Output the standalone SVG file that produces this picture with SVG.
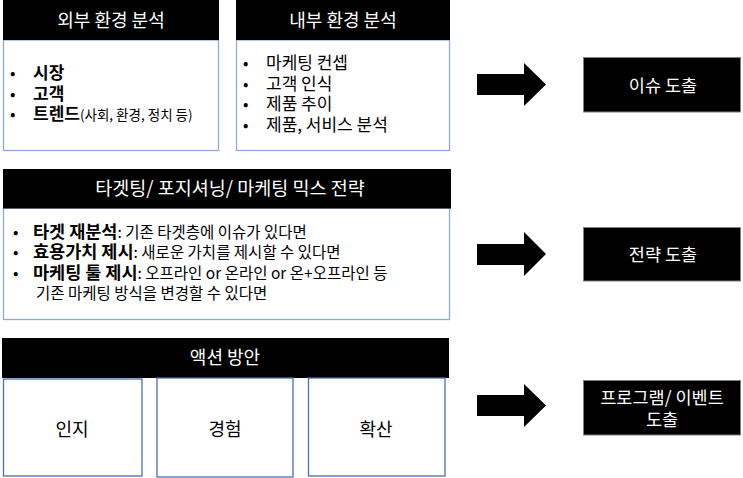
<svg xmlns="http://www.w3.org/2000/svg" width="743" height="478" viewBox="0 0 743 478">
<style>
text{font-family:"Noto Sans CJK KR","Noto Sans",sans-serif;}
.hd{fill:#000;}
.ht{fill:#fff;font-size:18px;text-anchor:middle;}
.bd{fill:#fff;stroke:#8ea9db;stroke-width:1.3;}
.sb{fill:#fff;stroke:#4a6fb5;stroke-width:1.3;}
.it{fill:#000;font-size:17px;}
.bu{fill:#000;font-size:16px;}
.b{font-weight:bold;}
.sm{font-size:13.5px;font-weight:normal;}
.nt{font-size:15.5px;font-weight:normal;}
.out{fill:#000;stroke:#7f7f7f;stroke-width:1;}
.ot{fill:#fff;font-size:17.5px;text-anchor:middle;}
.ct{fill:#000;font-size:18px;text-anchor:middle;}
.arr{fill:#000;}
</style>
<g id="external">
<rect class="bd" x="3.5" y="40" width="215" height="110.5"/>
<rect class="hd" x="3" y="0" width="216" height="40"/>
<text class="ht" x="111" y="26.5">외부 환경 분석</text>
<text class="bu" x="10" y="79">•</text>
<text class="it b" x="33" y="79">시장</text>
<text class="bu" x="10" y="99.5">•</text>
<text class="it b" x="33" y="99.5">고객</text>
<text class="bu" x="10" y="120">•</text>
<text class="it b" x="33" y="120">트렌드<tspan class="sm">(사회, 환경, 정치 등)</tspan></text>
</g>
<g id="internal">
<rect class="bd" x="236.5" y="40" width="213" height="110.5"/>
<rect class="hd" x="236" y="0" width="214" height="40"/>
<text class="ht" x="343" y="26.5">내부 환경 분석</text>
<text class="bu" x="243" y="69">•</text>
<text class="it" x="266" y="69">마케팅 컨셉</text>
<text class="bu" x="243" y="89.5">•</text>
<text class="it" x="266" y="89.5">고객 인식</text>
<text class="bu" x="243" y="110">•</text>
<text class="it" x="266" y="110">제품 추이</text>
<text class="bu" x="243" y="130.5">•</text>
<text class="it" x="266" y="130.5">제품, 서비스 분석</text>
</g>
<g id="issue">
<rect class="out" x="583.5" y="57.5" width="157" height="54.5"/>
<text class="ot" x="663" y="91.5">이슈 도출</text>
</g>
<g id="strategy-mix">
<rect class="bd" x="3.5" y="208" width="446" height="111.5"/>
<rect class="hd" x="3" y="169" width="448" height="39.5"/>
<text class="ht" x="230" y="195" style="font-size:18.5px">타겟팅/ 포지셔닝/ 마케팅 믹스 전략</text>
<text class="bu" x="13" y="237.5">•</text>
<text class="it b" x="33" y="237.5" style="font-size:17.5px">타겟 재분석<tspan class="nt">: 기존 타겟층에 이슈가 있다면</tspan></text>
<text class="bu" x="13" y="258">•</text>
<text class="it b" x="33" y="258" style="font-size:17.5px">효용가치 제시<tspan class="nt">: 새로운 가치를 제시할 수 있다면</tspan></text>
<text class="bu" x="13" y="278.5">•</text>
<text class="it b" x="33" y="278.5" style="font-size:17.5px">마케팅 툴 제시<tspan class="nt">: 오프라인 or 온라인 or 온+오프라인 등</tspan></text>
<text class="it nt" x="36" y="299">기존 마케팅 방식을 변경할 수 있다면</text>
</g>
<g id="strategy">
<rect class="out" x="583.5" y="227.5" width="157" height="53.5"/>
<text class="ot" x="663" y="260.5">전략 도출</text>
</g>
<g id="action">
<rect class="hd" x="2" y="338" width="447" height="40"/>
<text class="ht" x="225" y="364">액션 방안</text>
</g>
<g id="awareness">
<rect class="sb" x="3.5" y="379" width="138.5" height="97"/>
<text class="ct" x="72" y="436">인지</text>
</g>
<g id="experience">
<rect class="sb" x="157" y="378" width="136" height="99"/>
<text class="ct" x="225" y="436">경험</text>
</g>
<g id="spread">
<rect class="sb" x="308.5" y="378" width="136.5" height="98"/>
<text class="ct" x="376" y="436">확산</text>
</g>
<g id="program">
<rect class="out" x="583.5" y="380.5" width="157" height="54.5"/>
<text class="ot" x="662" y="404">프로그램/ 이벤트</text>
<text class="ot" x="662" y="426">도출</text>
</g>
<g id="connectors">
<polygon class="arr" points="477,74 524,74 524,63 546,84.5 524,106 524,95 477,95"/>
<polygon class="arr" points="477,244 524,244 524,232 546,254 524,276 524,265 477,265"/>
<polygon class="arr" points="477,395 524,395 524,384 546,405.5 524,427 524,416 477,416"/>
</g>
</svg>
